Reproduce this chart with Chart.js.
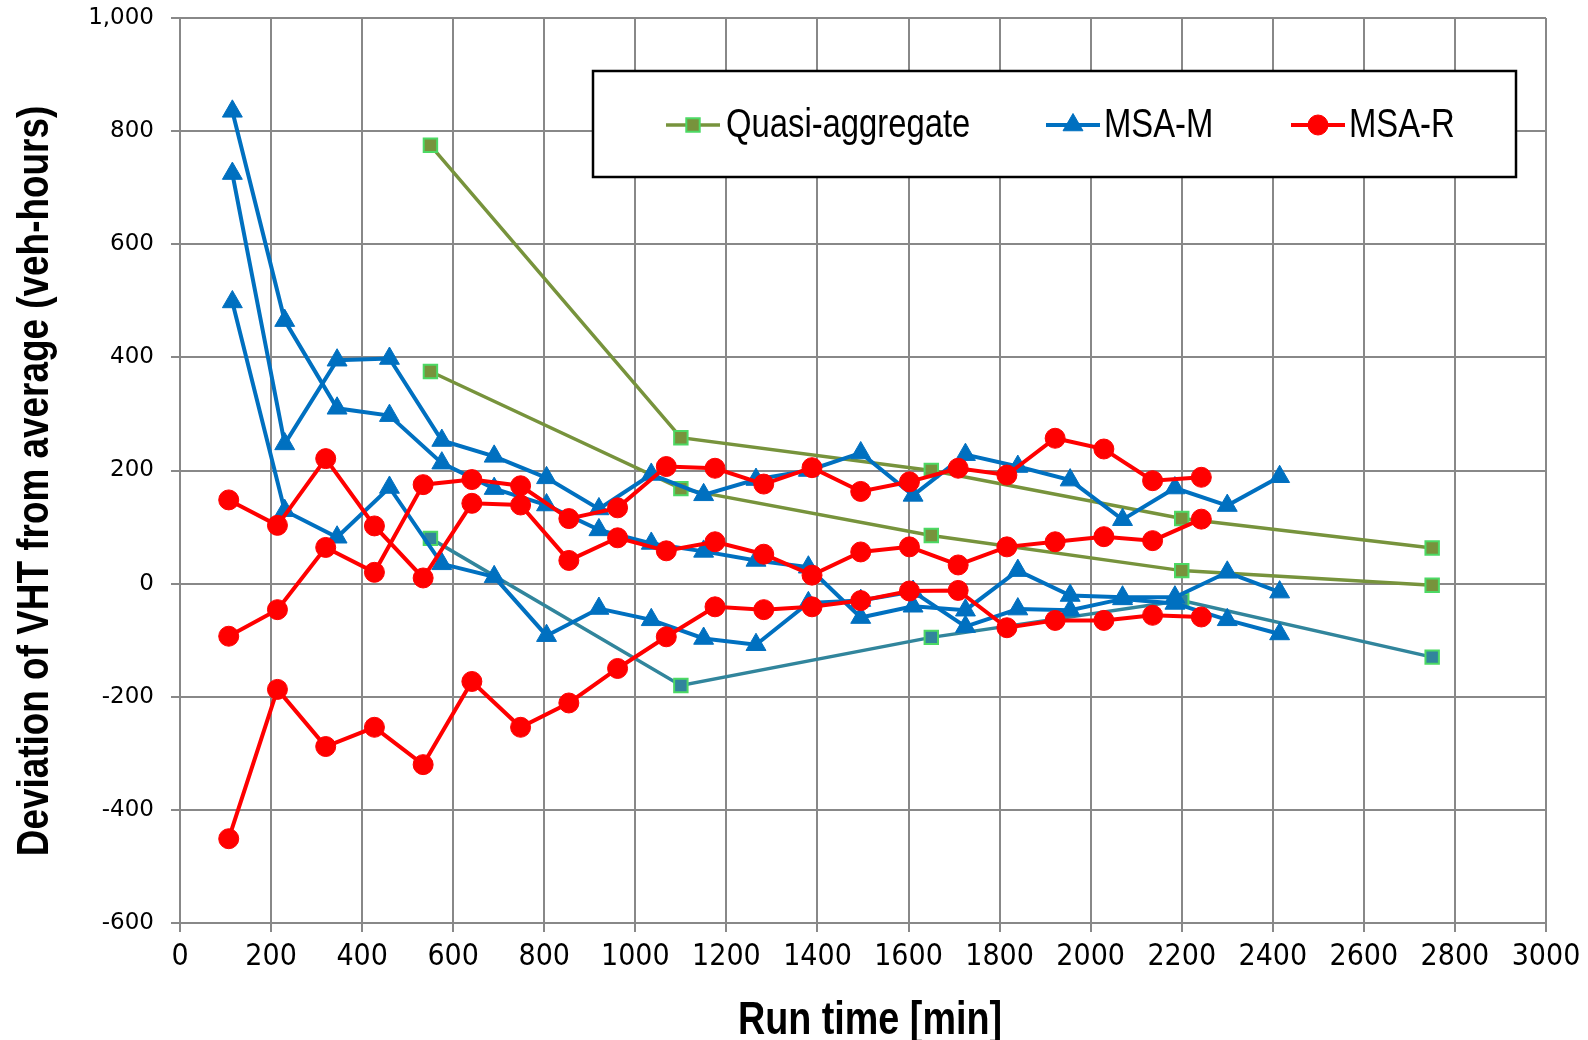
<!DOCTYPE html>
<html>
<head>
<meta charset="utf-8">
<script src="https://cdn.jsdelivr.net/npm/chart.js@4.4.0/dist/chart.umd.min.js"></script>
<style>
  body { margin: 0; background: #fff; }
  #wrap { width: 1588px; height: 1040px; }
</style>
</head>
<body>
<div id="wrap"><canvas id="vhtChart" width="1588" height="1040"></canvas></div>
<script>
// run time [min] of each iteration
const quasiX = [550, 1100, 1650, 2200, 2750];
const msaMX = [115, 230, 345, 460, 575, 690, 805, 920, 1035, 1150, 1265, 1380, 1495, 1610, 1725, 1840, 1955, 2070, 2185, 2300, 2415];
const msaRX = [107, 214, 320, 427, 534, 641, 748, 854, 961, 1068, 1175, 1282, 1388, 1495, 1602, 1709, 1816, 1922, 2029, 2136, 2243];

// deviation of VHT from average (veh-hours)
const quasiA = [775, 258, 200, 115, 63];
const quasiB = [375, 168, 85, 23, -3];
const quasiC = [80, -180, -95, -30, -130];

const msaMA = [835, 465, 310, 297, 213, 168, 139, 95, 71, 57, 41, 29, -60, -40, -47, 23, -21, -24, -24, 20, -15];
const msaMB = [725, 247, 395, 398, 253, 225, 187, 132, 193, 157, 184, 200, 231, 156, 228, 207, 183, 113, 169, 138, 189];
const msaMC = [498, 129, 82, 170, 35, 12, -92, -44, -64, -97, -108, -34, -30, -14, -76, -45, -47, -27, -35, -64, -89];

const msaRA = [148, 103, 221, 102, 10, 142, 139, 41, 81, 58, 74, 52, 15, 56, 65, 33, 65, 74, 83, 76, 114];
const msaRB = [-93, -46, 64, 20, 175, 184, 173, 115, 134, 207, 204, 176, 205, 163, 180, 204, 192, 257, 238, 182, 188];
const msaRC = [-451, -187, -288, -254, -320, -173, -254, -211, -150, -94, -41, -46, -41, -30, -13, -12, -78, -65, -65, -56, -59];

const xTicks = { min: 0, max: 3000, step: 200 };
const yTicks = { min: -600, max: 1000, step: 200 };

const xTitle = 'Run time [min]';
const yTitle = 'Deviation of VHT from average (veh-hours)';

const condensed = '"DejaVu Sans Condensed", "Liberation Sans Narrow", sans-serif';
const plain = '"Liberation Sans", Arial, sans-serif';

function pts(xs, ys) {
  return xs.map((x, i) => ({ x: x, y: ys[i] }));
}

const green = '#77933C', teal = '#31859C', edge = '#4CD964', blue = '#0070C0', red = '#FF0000';

function quasi(label, ys, color) {
  return {
    label: label, data: pts(quasiX, ys), borderColor: color, borderWidth: 3.5,
    pointStyle: 'rect', pointRadius: 9.5, pointBackgroundColor: color,
    pointBorderColor: edge, pointBorderWidth: 2, order: 3
  };
}
function msaM(label, ys) {
  return {
    label: label, data: pts(msaMX, ys), borderColor: blue, borderWidth: 4,
    pointStyle: 'triangle', pointRadius: 11.5, pointBackgroundColor: blue,
    pointBorderColor: blue, pointBorderWidth: 1, order: 2
  };
}
function msaR(label, ys) {
  return {
    label: label, data: pts(msaRX, ys), borderColor: red, borderWidth: 4,
    pointStyle: 'circle', pointRadius: 10, pointBackgroundColor: red,
    pointBorderColor: red, pointBorderWidth: 1, order: 1
  };
}

const datasets = [
  quasi('Quasi-aggregate', quasiA, green),
  quasi('Quasi-aggregate', quasiB, green),
  quasi('Quasi-aggregate', quasiC, teal),
  msaM('MSA-M', msaMA),
  msaM('MSA-M', msaMB),
  msaM('MSA-M', msaMC),
  msaR('MSA-R', msaRA),
  msaR('MSA-R', msaRB),
  msaR('MSA-R', msaRC)
];

// narrow-looking text: regular face squeezed sideways
function squeezedText(ctx, text, x, y, font, angle) {
  ctx.save();
  ctx.translate(x, y);
  ctx.rotate(angle);
  ctx.scale(0.82, 1);
  ctx.font = font;
  ctx.fillStyle = '#000';
  ctx.textAlign = 'center';
  ctx.textBaseline = 'middle';
  ctx.fillText(text, 0, 0);
  ctx.restore();
}

// legend drawn in a framed box inside the plot
const legendItems = [
  { ds: 0, shape: 'rect', x: 666, textX: 726 },
  { ds: 3, shape: 'triangle', x: 1046, textX: 1104 },
  { ds: 6, shape: 'circle', x: 1291, textX: 1349 }
];

const boxLegend = {
  id: 'boxLegend',
  afterDraw(chart) {
    const ctx = chart.ctx;
    const cy = 125;
    ctx.save();
    ctx.fillStyle = '#fff';
    ctx.fillRect(593, 71, 923, 106);
    ctx.lineWidth = 2.5;
    ctx.strokeStyle = '#000';
    ctx.strokeRect(593, 71, 923, 106);
    legendItems.forEach(it => {
      const ds = chart.data.datasets[it.ds];
      const mx = it.x + 27;
      ctx.strokeStyle = ds.borderColor;
      ctx.lineWidth = ds.borderWidth;
      ctx.beginPath();
      ctx.moveTo(it.x, cy);
      ctx.lineTo(it.x + 54, cy);
      ctx.stroke();
      ctx.fillStyle = ds.pointBackgroundColor;
      ctx.strokeStyle = ds.pointBorderColor;
      ctx.lineWidth = ds.pointBorderWidth;
      const r = ds.pointRadius;
      ctx.beginPath();
      if (it.shape === 'rect') {
        const s = r * Math.SQRT1_2;
        ctx.rect(mx - s, cy - s, 2 * s, 2 * s);
      } else if (it.shape === 'triangle') {
        ctx.moveTo(mx, cy - r);
        ctx.lineTo(mx + r * 0.866, cy + r / 2);
        ctx.lineTo(mx - r * 0.866, cy + r / 2);
        ctx.closePath();
      } else {
        ctx.arc(mx, cy, r, 0, Math.PI * 2);
      }
      ctx.fill();
      ctx.stroke();
      ctx.save();
      ctx.translate(it.textX, cy + 1);
      ctx.scale(0.82, 1);
      ctx.fillStyle = '#000';
      ctx.font = '40px ' + plain;
      ctx.textBaseline = 'middle';
      ctx.fillText(ds.label, 0, 0);
      ctx.restore();
    });
    ctx.restore();
  }
};

// axis titles
const axisTitles = {
  id: 'axisTitles',
  afterDraw(chart) {
    const ctx = chart.ctx;
    const area = chart.chartArea;
    squeezedText(ctx, xTitle, (area.left + area.right) / 2 + 7, 1021, 'bold 46px ' + plain, 0);
    squeezedText(ctx, yTitle, 36, 481, 'bold 45px ' + plain, -Math.PI / 2);
  }
};

const ctx = document.getElementById('vhtChart').getContext('2d');
const chart = new Chart(ctx, {
  type: 'line',
  data: { datasets: datasets },
  options: {
    responsive: false,
    animation: false,
    layout: { padding: { top: 18, right: 42, left: 0, bottom: 0 } },
    plugins: { legend: { display: false }, tooltip: { enabled: false } },
    scales: {
      x: {
        type: 'linear',
        min: xTicks.min, max: xTicks.max,
        ticks: {
          stepSize: xTicks.step, color: '#000', padding: 7,
          font: { family: condensed, size: 30 },
          callback: v => String(v)
        },
        grid: { color: '#888', lineWidth: 2, tickLength: 9, tickColor: '#888' },
        border: { color: '#888', width: 2 },
        afterFit: s => { s.height = 117; s.paddingLeft = 0; s.paddingRight = 0; }
      },
      y: {
        min: yTicks.min, max: yTicks.max,
        ticks: {
          stepSize: yTicks.step, color: '#000', padding: 17,
          font: { family: '"DejaVu Sans", Verdana, sans-serif', size: 23 },
          callback: v => v.toLocaleString('en-US')
        },
        grid: { color: '#888', lineWidth: 2, tickLength: 9, tickColor: '#888' },
        border: { color: '#888', width: 2 },
        afterFit: s => { s.width = 180; s.paddingTop = 0; s.paddingBottom = 0; }
      }
    }
  },
  plugins: [boxLegend, axisTitles]
});
</script>
</body>
</html>
